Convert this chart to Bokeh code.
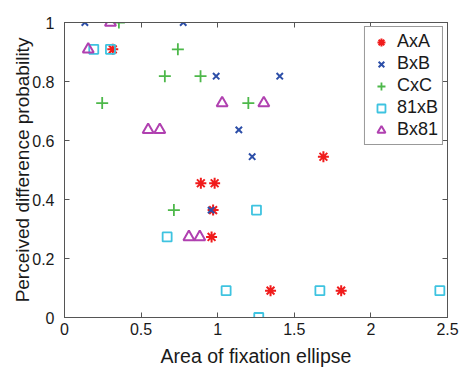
from bokeh.plotting import figure
from bokeh.models import LinearAxis, FixedTicker
from bokeh.embed import file_html
from bokeh.resources import INLINE

# ---- data ----
axa_x = [0.315, 0.89, 0.98, 0.97, 0.96, 1.69, 1.345, 1.806]
axa_y = [0.909, 0.455, 0.455, 0.364, 0.273, 0.545, 0.091, 0.091]

bxb_x = [0.133, 0.775, 0.99, 1.138, 1.225, 1.405, 0.957]
bxb_y = [1.0, 1.0, 0.818, 0.636, 0.545, 0.818, 0.364]

cxc_x = [0.355, 0.246, 0.74, 0.655, 0.888, 1.20, 0.714]
cxc_y = [1.0, 0.727, 0.909, 0.818, 0.818, 0.727, 0.364]

b81_x = [0.191, 0.30, 0.67, 1.055, 1.253, 1.268, 1.667, 2.45]
b81_y = [0.909, 0.909, 0.273, 0.091, 0.364, 0.0, 0.091, 0.091]

x81_x = [0.155, 0.30, 0.546, 0.622, 1.029, 1.301, 0.812, 0.883]
x81_y = [0.909, 1.0, 0.636, 0.636, 0.727, 0.727, 0.273, 0.273]

x_ticks = [0, 0.5, 1, 1.5, 2, 2.5]
y_ticks = [0, 0.2, 0.4, 0.6, 0.8, 1]

FONT = "Liberation Sans"
FRAME = "#555555"

p = figure(width=462, height=369, x_range=(0, 2.5), y_range=(0, 1),
           output_backend="svg", toolbar_location=None,
           min_border_left=64, min_border_right=15,
           min_border_top=22, min_border_bottom=51,
           background_fill_color="white", border_fill_color="white")
p.grid.visible = False
p.outline_line_color = FRAME

for ax in (p.xaxis[0], p.yaxis[0]):
    ax.major_tick_in = 5
    ax.major_tick_out = 0
    ax.minor_tick_line_color = None
    ax.axis_line_color = FRAME
    ax.major_tick_line_color = FRAME
    ax.major_label_text_font = FONT
    ax.major_label_text_font_size = "16px"
    ax.major_label_text_color = "#1a1a1a"
    ax.axis_label_text_font = FONT
    ax.axis_label_text_font_style = "normal"
    ax.axis_label_text_color = "#1a1a1a"

p.xaxis[0].ticker = FixedTicker(ticks=x_ticks)
p.yaxis[0].ticker = FixedTicker(ticks=y_ticks)
p.xaxis[0].axis_label = "Area of fixation ellipse"
p.yaxis[0].axis_label = "Perceived difference probability"
p.xaxis[0].axis_label_text_font_size = "19.5px"
p.yaxis[0].axis_label_text_font_size = "19px"
p.xaxis[0].major_label_standoff = 5
p.xaxis[0].axis_label_standoff = 7
p.yaxis[0].major_label_standoff = 10
p.yaxis[0].axis_label_standoff = -4

for loc, tk in (("above", x_ticks), ("right", y_ticks)):
    a = LinearAxis(ticker=FixedTicker(ticks=tk), major_tick_in=5, major_tick_out=0,
                   minor_tick_line_color=None, axis_line_color=FRAME,
                   major_tick_line_color=FRAME, major_label_text_font_size="1px",
                   major_label_text_color=None, major_label_standoff=0)
    p.add_layout(a, loc)

p.scatter(axa_x, axa_y, marker="asterisk", size=11, line_color="#f01c1c",
          line_width=2, legend_label="AxA")
p.scatter(bxb_x, bxb_y, marker="x", size=9, line_color="#2d4fa8",
          line_width=2, legend_label="BxB")
p.scatter(cxc_x, cxc_y, marker="cross", size=12, line_color="#4db84a",
          line_width=1.8, legend_label="CxC")
p.scatter(b81_x, b81_y, marker="square", size=9, line_color="#3ec3e0",
          fill_color=None, line_width=1.8, legend_label="81xB")
p.scatter(x81_x, x81_y, marker="triangle", size=11, line_color="#b040b0",
          fill_color=None, line_width=2, legend_label="Bx81")

lg = p.legend[0]
lg.location = "top_right"
lg.margin = 4
lg.padding = 4
lg.spacing = 1
lg.glyph_width = 24
lg.glyph_height = 20
lg.label_height = 20
lg.label_standoff = 4
lg.label_text_font = FONT
lg.label_text_font_size = "18px"
lg.label_text_color = "#1a1a1a"
lg.border_line_color = "#333333"
lg.border_line_width = 1
lg.background_fill_alpha = 1

open("out.html", "w").write(file_html(p, INLINE))
